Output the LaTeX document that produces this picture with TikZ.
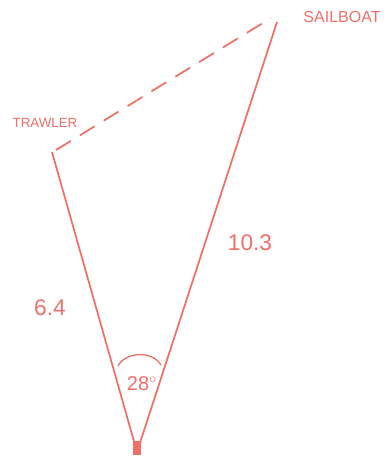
\documentclass[tikz,border=0pt]{standalone}
\usepackage{fontspec}
\setmainfont{Liberation Sans}
\definecolor{sketch}{RGB}{240,112,104}
\begin{document}
\begin{tikzpicture}[x=0.75pt,y=-0.75pt,
  side/.style={draw=sketch,line width=1.3pt},
  lbl/.style={text=sketch,inner sep=0pt}]
\useasboundingbox (0,0) rectangle (387,459);
\fill[white] (0,0) rectangle (387,459);
\coordinate (V) at (137,452);
\coordinate (T) at (52,152);
\coordinate (S) at (277,22);
\coordinate (Ta) at (56,150);
\coordinate (Sa) at (271,18);
\draw[side] (V) -- (T);
\draw[side] (V) -- (S);
\draw[side,dash pattern=on 13pt off 8pt] (Ta) -- (Sa);
\fill[sketch] (133,441) rectangle (141,455);
\coordinate (A1) at (118,366);
\coordinate (A2) at (161,365);
\draw[side,line width=1pt] (A1) .. controls (125,352) and (152,350) .. (A2);
\node[lbl,font=\fontsize{10}{12}\selectfont] (trawler) at (45,123) {TRAWLER};
\node[lbl,font=\fontsize{12}{14}\selectfont] (sailboat) at (342,17) {SAILBOAT};
\node[lbl,font=\fontsize{17}{20}\selectfont] (a) at (50,308) {6.4};
\node[lbl,font=\fontsize{17}{20}\selectfont] (b) at (250,243) {10.3};
\node[lbl,font=\fontsize{15}{18}\selectfont] (ang) at (142,384) {28$^{\circ}$};
\end{tikzpicture}
\end{document}
